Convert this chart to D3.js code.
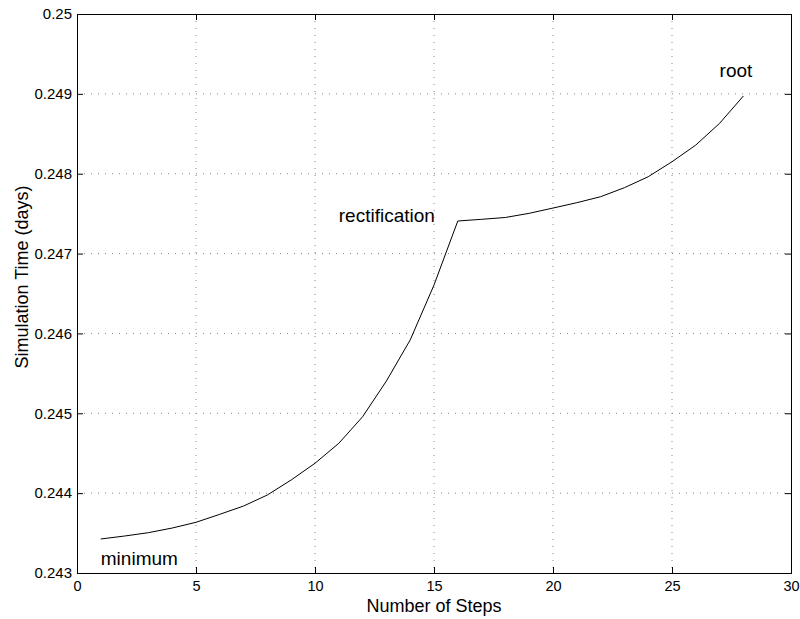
<!DOCTYPE html>
<html><head><meta charset="utf-8">
<script src="https://cdn.jsdelivr.net/npm/d3@7"></script>
<style>body{margin:0;background:#fff}svg{display:block}text{font-family:"Liberation Sans",Arial,sans-serif}</style>
</head><body>
<svg id="c" width="800" height="619"></svg>
<script>
const steps = d3.range(1, 29);
const simTime = [0.243426,0.243463,0.243505,0.243563,0.243635,0.243735,0.243839,0.243977,0.244165,0.244374,
 0.244624,0.244957,0.245404,0.245918,0.246606,0.247408,0.247429,0.247452,0.247504,0.247570,
 0.247637,0.247712,0.247825,0.247962,0.248150,0.248359,0.248631,0.248973];
const xTicks = [0,5,10,15,20,25,30];
const yTicks = [0.243,0.244,0.245,0.246,0.247,0.248,0.249,0.25];
const annotations = [{label:"minimum", x:1, y:0.2431, anchor:"start"},
                     {label:"rectification", x:11, y:0.2474, anchor:"start"},
                     {label:"root", x:27, y:0.24921, anchor:"start"}];

const L=77, R=791, T=14, B=573;
const svg = d3.select("#c");
const x = d3.scaleLinear().domain([0,30]).range([L,R]);
const y = d3.scaleLinear().domain([0.243,0.25]).range([B,T]);

// grid
const g = svg.append("g");
g.selectAll(".gx").data(xTicks.slice(1,-1)).join("line")
 .attr("x1",d=>x(d)).attr("x2",d=>x(d)).attr("y1",T).attr("y2",B)
 .attr("stroke","#888").attr("stroke-width",1).attr("stroke-dasharray","1,6");
g.selectAll(".gy").data(yTicks.slice(1,-1)).join("line")
 .attr("y1",d=>y(d)).attr("y2",d=>y(d)).attr("x1",L).attr("x2",R)
 .attr("stroke","#888").attr("stroke-width",1).attr("stroke-dasharray","1,6");

// axes
const fmtY = d=> d===0.25 ? "0.25" : d3.format(".3f")(d);
const ax = svg.append("g").attr("transform",`translate(0,${B})`)
 .call(d3.axisBottom(x).tickValues(xTicks).tickSize(-6).tickPadding(8).tickFormat(d3.format("d")));
const ay = svg.append("g").attr("transform",`translate(${L},0)`)
 .call(d3.axisLeft(y).tickValues(yTicks).tickSize(-6).tickPadding(5).tickFormat(fmtY));
const axT = svg.append("g").attr("transform",`translate(0,${T})`)
 .call(d3.axisTop(x).tickValues(xTicks).tickSize(-6).tickFormat(""));
const ayR = svg.append("g").attr("transform",`translate(${R},0)`)
 .call(d3.axisRight(y).tickValues(yTicks).tickSize(-6).tickFormat(""));
[ax,ay,axT,ayR].forEach(a=>{
  a.select(".domain").attr("stroke","#000").attr("stroke-width",1);
  a.selectAll(".tick line").attr("stroke","#000");
  a.selectAll("text").attr("fill","#000").style("font-family","Liberation Sans, Arial, sans-serif");
});
ax.selectAll("text").attr("font-size",14.5);
ay.selectAll("text").attr("font-size",15);

// line
svg.append("path").datum(steps.map((s,i)=>[s,simTime[i]]))
 .attr("d", d3.line().x(d=>x(d[0])).y(d=>y(d[1])))
 .attr("fill","none").attr("stroke","#000").attr("stroke-width",1);

// annotations
svg.selectAll(".ann").data(annotations).join("text")
 .attr("x",d=>x(d.x)).attr("y",d=>y(d.y)).attr("text-anchor",d=>d.anchor)
 .attr("font-size",19).attr("fill","#000").text(d=>d.label);

// labels
svg.append("text").attr("x",(L+R)/2).attr("y",612).attr("text-anchor","middle")
 .attr("font-size",18).text("Number of Steps");
svg.append("text").attr("transform",`translate(28,277) rotate(-90)`).attr("text-anchor","middle")
 .attr("font-size",18).text("Simulation Time (days)");
</script>
</body></html>
